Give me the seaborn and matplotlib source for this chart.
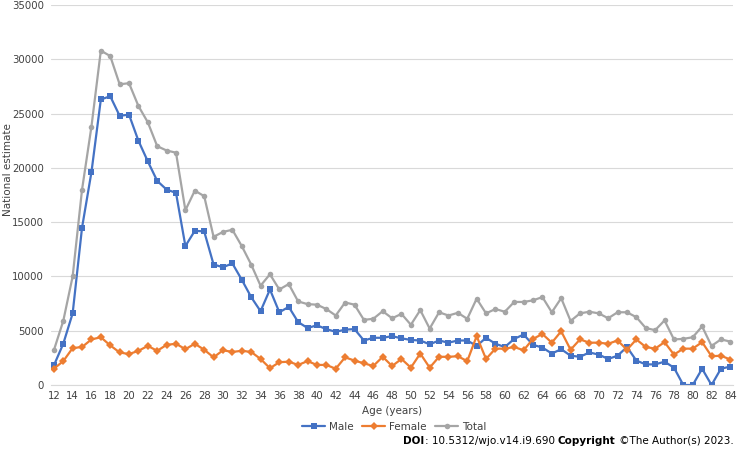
import pandas as pd
import matplotlib
matplotlib.use("Agg")
import matplotlib.pyplot as plt
import seaborn as sns

# Values (national estimate by age)
ages = list(range(12, 85))
male = [1800, 3800, 6600, 14500, 19600, 26300, 26600, 24800, 24900, 22500,
        20600, 18800, 18000, 17700, 12800, 14200, 14150, 11100, 10850, 11200,
        9700, 8100, 6800, 8800, 6700, 7200, 5800, 5250, 5500, 5150,
        4900, 5100, 5150, 4100, 4350, 4350, 4500, 4300, 4150, 4100,
        3750, 4100, 3900, 4100, 4100, 3600, 4350, 3800, 3500, 4250,
        4650, 3700, 3450, 2900, 3300, 2700, 2600, 3000, 2800, 2400,
        2700, 3500, 2250, 1900, 1900, 2150, 1600, 0, 0, 1500,
        0, 1500, 1700]
female = [1500, 2200, 3400, 3500, 4200, 4400, 3650, 3000, 2850, 3150,
          3600, 3150, 3700, 3800, 3300, 3800, 3250, 2550, 3200, 3050,
          3150, 3050, 2400, 1550, 2100, 2150, 1850, 2200, 1850, 1850,
          1500, 2550, 2250, 2000, 1750, 2600, 1750, 2400, 1600, 2900,
          1600, 2600, 2600, 2650, 2200, 4500, 2400, 3350, 3350, 3500,
          3200, 4250, 4700, 3900, 4950, 3250, 4200, 3900, 3900, 3800,
          4100, 3250, 4200, 3500, 3350, 3950, 2800, 3350, 3350, 3950,
          2650, 2700, 2350]
total = [3200, 5900, 10000, 18000, 23800, 30800, 30300, 27700, 27800, 25700,
         24200, 22000, 21600, 21400, 16100, 17900, 17400, 13650, 14100, 14300,
         12800, 11100, 9150, 10200, 8800, 9300, 7700, 7450, 7400, 7000,
         6400, 7600, 7400, 6000, 6100, 6800, 6150, 6550, 5550, 6900,
         5200, 6700, 6400, 6650, 6100, 7950, 6600, 7000, 6750, 7650,
         7650, 7800, 8100, 6700, 8000, 5900, 6600, 6750, 6600, 6150,
         6700, 6700, 6250, 5250, 5050, 5950, 4200, 4250, 4400, 5400,
         3600, 4200, 4000]

series = ["Male", "Female", "Total"]
colors = {"Male": "#4472C4", "Female": "#ED7D31", "Total": "#A5A5A5"}
markers = {"Male": "s", "Female": "D", "Total": "o"}

df = pd.concat([
    pd.DataFrame({"age": ages, "value": male, "sex": "Male"}),
    pd.DataFrame({"age": ages, "value": female, "sex": "Female"}),
    pd.DataFrame({"age": ages, "value": total, "sex": "Total"}),
])

sns.set_style("white")
plt.rcParams["font.family"] = ["DejaVu Sans"]
plt.rcParams["font.size"] = 7

fig = plt.figure(figsize=(7.37, 4.49), dpi=100)
ax = fig.add_axes([0.069, 0.1425, 0.926, 0.8463])

sns.lineplot(data=df, x="age", y="value", hue="sex", style="sex",
             hue_order=series, style_order=series, palette=colors,
             markers=markers, dashes=False, linewidth=1.6, markersize=4,
             markeredgewidth=0, ax=ax)

ax.set_xlim(11.68, 84.32)
ax.set_ylim(0, 35000)
ax.set_xticks(range(12, 85, 2))
ax.set_yticks(range(0, 35001, 5000))
ax.grid(axis="y", color="#D9D9D9", linewidth=0.8)
ax.set_axisbelow(True)
for s in ["top", "right", "left"]:
    ax.spines[s].set_visible(False)
ax.spines["bottom"].set_color("#D9D9D9")
ax.spines["bottom"].set_linewidth(0.8)
ax.tick_params(axis="y", length=3, color="#D9D9D9", width=0.8, pad=2,
               labelsize=7.3, labelcolor="#404040")
ax.tick_params(axis="x", length=0, pad=4, labelsize=7.3, labelcolor="#404040")

ax.set_xlabel("Age (years)", fontsize=7.5, color="#404040")
ax.xaxis.set_label_coords(0.5, -0.055)
ax.set_ylabel("National estimate", fontsize=7.5, color="#404040")
ax.yaxis.set_label_coords(-0.056, 0.568)

handles, labels = ax.get_legend_handles_labels()
ax.get_legend().remove()
fig.legend(handles, labels, loc="center", bbox_to_anchor=(0.535, 0.049),
           ncol=3, frameon=False, fontsize=7.5, handlelength=2.2,
           columnspacing=0.8, handletextpad=0.4, labelcolor="#404040")

# Source line at the bottom right, bold parts drawn separately
pieces = [("DOI", "bold"), (": 10.5312/wjo.v14.i9.690 ", "normal"),
          ("Copyright", "bold"), (" \u00a9The Author(s) 2023.", "normal")]
fig.canvas.draw()
renderer = fig.canvas.get_renderer()
x = 0.995
for txt, wt in reversed(pieces):
    t = fig.text(x, 0.018, txt, ha="right", va="center", fontsize=7.5,
                 fontweight=wt, color="black")
    bb = t.get_window_extent(renderer)
    x -= bb.width / fig.bbox.width

fig.savefig("out.png", dpi=100)
